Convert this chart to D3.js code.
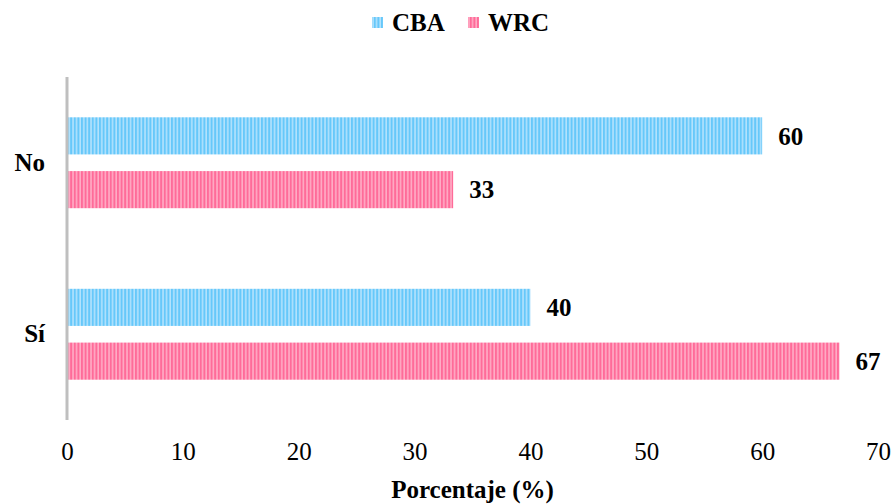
<!DOCTYPE html>
<html>
<head>
<meta charset="utf-8">
<script src="https://cdn.jsdelivr.net/npm/d3@7"></script>
<style>
  html, body { margin: 0; padding: 0; background: #fff; }
  svg { display: block; }
  svg text { font-family: "Liberation Serif", "Times New Roman", Times, "DejaVu Serif", serif; }
</style>
</head>
<body>
<svg id="chart" width="892" height="504"></svg>
<script>
// Categories (top to bottom) and series
const categories = ["No", "Sí"];
const seriesNames = ["CBA", "WRC"];
const cbaValues = [60, 40];
const wrcValues = [33.33, 66.67];
const xTicks = [0, 10, 20, 30, 40, 50, 60, 70];

const colors = {
  CBA: { base: "#66c8fa", light: "#bde6fd" },
  WRC: { base: "#ff6b99", light: "#ffb5cc" }
};

const SERIF = "'Liberation Serif', 'Times New Roman', Times, serif";

const rows = categories.map((c, i) => ({
  category: c,
  values: [
    { series: "CBA", value: cbaValues[i] },
    { series: "WRC", value: wrcValues[i] }
  ]
}));

const svg = d3.select("#chart");
const margin = { top: 77, right: 14, bottom: 84, left: 67 };
const width = 892, height = 504;

// Vertical-stripe fills for the bars
const defs = svg.append("defs");
seriesNames.forEach(s => {
  const p = defs.append("pattern")
    .attr("id", "stripe-" + s)
    .attr("patternUnits", "userSpaceOnUse")
    .attr("width", 3.6).attr("height", 10);
  p.append("rect").attr("width", 3.6).attr("height", 10).attr("fill", colors[s].base);
  p.append("rect").attr("x", 0.3).attr("width", 1.4).attr("height", 10).attr("fill", colors[s].light);
});

const x = d3.scaleLinear()
  .domain([0, 70])
  .range([margin.left, width - margin.right]);

const y0 = d3.scaleBand()
  .domain(categories)
  .range([margin.top, height - margin.bottom])
  .paddingInner(0.47)
  .paddingOuter(0.235);

const y1 = d3.scaleBand()
  .domain(seriesNames)
  .range([0, y0.bandwidth()])
  .paddingInner(0.31);

// Bars
const groups = svg.append("g").selectAll("g")
  .data(rows)
  .join("g")
  .attr("transform", d => `translate(0,${y0(d.category)})`);

groups.selectAll("rect")
  .data(d => d.values)
  .join("rect")
  .attr("x", x(0))
  .attr("y", d => y1(d.series))
  .attr("width", d => x(d.value) - x(0))
  .attr("height", y1.bandwidth())
  .attr("fill", d => `url(#stripe-${d.series})`);

// Value labels
groups.selectAll("text")
  .data(d => d.values)
  .join("text")
  .attr("x", d => x(d.value) + 16)
  .attr("y", d => y1(d.series) + y1.bandwidth() / 2)
  .attr("dy", "0.35em")
  .attr("font-family", SERIF)
  .attr("font-size", 25)
  .attr("font-weight", "bold")
  .attr("fill", "#000")
  .text(d => d3.format(".0f")(d.value));

// Vertical axis line
svg.append("line")
  .attr("x1", x(0)).attr("x2", x(0))
  .attr("y1", margin.top).attr("y2", height - margin.bottom)
  .attr("stroke", "#bfbfbf").attr("stroke-width", 3);

// Category labels
const yAxis = svg.append("g")
  .attr("transform", `translate(${margin.left - 22},0)`)
  .call(d3.axisLeft(y0).tickSize(0).tickPadding(0));
yAxis.select(".domain").remove();
yAxis.selectAll("text")
  .attr("font-family", SERIF)
  .attr("font-size", 25)
  .attr("font-weight", "bold")
  .attr("fill", "#000");

// X axis tick labels
const xAxis = svg.append("g")
  .attr("transform", `translate(0,${height - margin.bottom})`)
  .call(d3.axisBottom(x).tickValues(xTicks).tickSize(0).tickPadding(22));
xAxis.select(".domain").remove();
xAxis.selectAll("text")
  .attr("font-family", SERIF)
  .attr("font-size", 25)
  .attr("fill", "#000");

// X axis title
svg.append("text")
  .attr("x", (x(0) + x(70)) / 2)
  .attr("y", 498)
  .attr("text-anchor", "middle")
  .attr("font-family", SERIF)
  .attr("font-size", 25)
  .attr("font-weight", "bold")
  .text("Porcentaje (%)");

// Legend
const legendItems = [
  { series: "CBA", x: 372 },
  { series: "WRC", x: 468 }
];
const legend = svg.append("g").selectAll("g")
  .data(legendItems)
  .join("g")
  .attr("transform", d => `translate(${d.x},22)`);
legend.append("rect")
  .attr("x", 0).attr("y", -5)
  .attr("width", 11).attr("height", 11)
  .attr("fill", d => `url(#stripe-${d.series})`);
legend.append("text")
  .attr("x", 20).attr("y", 0)
  .attr("dy", "0.35em")
  .attr("font-family", SERIF)
  .attr("font-size", 25)
  .attr("font-weight", "bold")
  .text(d => d.series);
</script>
</body>
</html>
